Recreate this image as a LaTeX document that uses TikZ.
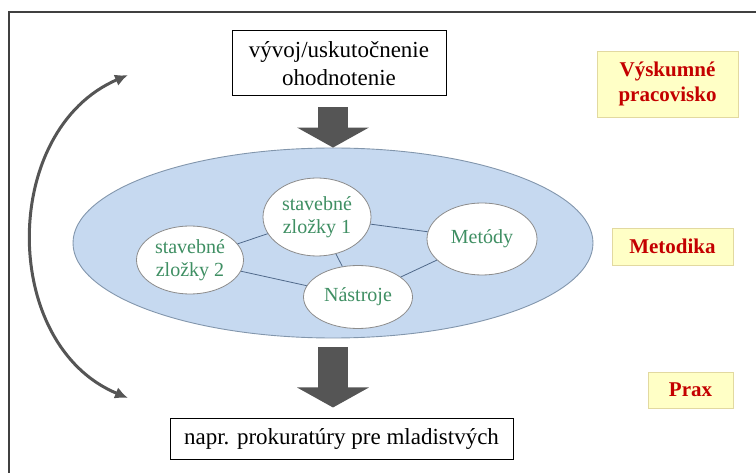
\documentclass[tikz,border=0pt]{standalone}
\usepackage{fontspec}
\setmainfont{Liberation Serif}
\usetikzlibrary{shapes.geometric,arrows.meta,positioning}
\definecolor{skyfill}{HTML}{C6D9F0}
\definecolor{skyline}{HTML}{8296AC}
\definecolor{partline}{HTML}{8C8C8C}
\definecolor{partgreen}{HTML}{3F8F63}
\definecolor{linkblue}{HTML}{50698A}
\definecolor{tagfill}{HTML}{FFFFC6}
\definecolor{tagline}{HTML}{E2D9A0}
\definecolor{tagred}{HTML}{C40000}
\definecolor{arrowgray}{HTML}{555555}
\begin{document}
\begin{tikzpicture}[x=1pt,y=-1pt,
    box/.style={draw=black,line width=1pt,fill=white,align=center,inner sep=0pt,
      font=\fontsize{23}{28}\selectfont},
    part/.style={ellipse,draw=partline,line width=0.8pt,fill=white,inner sep=0pt,
      align=center,text=partgreen,font=\fontsize{20}{23}\selectfont},
    tag/.style={draw=tagline,fill=tagfill,text=tagred,inner sep=0pt,align=center,
      font=\bfseries\fontsize{21}{25}\selectfont},
    link/.style={draw=linkblue,line width=0.8pt},
    fat/.style={draw=arrowgray,line width=30pt,-{Triangle[length=20pt,width=71pt]}},
    cycle/.style={draw=arrowgray,line width=3pt,{Latex[length=13pt,width=12pt]}-{Latex[length=13pt,width=12pt]}}]
    \useasboundingbox (0,0) rectangle (756,473);
    \draw[line width=1.2pt,draw=black!75] (9,473) -- (9,12) -- (756,12);
    % methodology field
    \node[ellipse,draw=skyline,line width=0.9pt,fill=skyfill,inner sep=0pt,
      minimum width=520pt,minimum height=190pt] (field) at (333,243) {};
    \node[part,minimum width=108pt,minimum height=78pt] (s1) at (317,217) {stavebné\\zložky 1};
    \node[part,minimum width=107pt,minimum height=68pt] (s2) at (190,260) {stavebné\\zložky 2};
    \node[part,minimum width=109pt,minimum height=63pt] (tools) at (358,297) {Nástroje};
    \node[part,minimum width=110pt,minimum height=72pt] (methods) at (482,239) {Metódy};
    \path[link]
    (s1) edge (methods)
    (s1) edge (s2)
    (s1) edge (tools)
    (s2) edge (tools)
    (tools) edge (methods);
    % boxes above and below
    \node[box,minimum width=214pt,minimum height=65pt] (dev) at (339,63.5) {vývoj/uskutočnenie\\ohodnotenie};
    \node[box,minimum width=343pt,minimum height=40pt] (use) at (341.5,439) {napr. prokuratúry pre mladistvých};
    \draw[fat,shorten <=11pt] (field.north |- dev.south) -- (field.north);
    \draw[fat,shorten <=9pt,shorten >=11pt] (field.south) -- (field.south |- use.north);
    % labels on the right
    \node[tag,minimum width=141pt,minimum height=66pt] (lab) at (667.5,84) {Výskumné\\pracovisko};
    \node[tag,minimum width=121pt,minimum height=37pt] (meth) at (672.5,246.5) {Metodika};
    \node[tag,minimum width=85pt,minimum height=36pt] (prax) at (690.5,390) {Prax};
    % feedback arc
    \coordinate (up) at (128,75);
    \coordinate (down) at (128,398);
    \draw[cycle] (up) .. controls (0,130) and (0,345) .. (down);
\end{tikzpicture}
\end{document}
